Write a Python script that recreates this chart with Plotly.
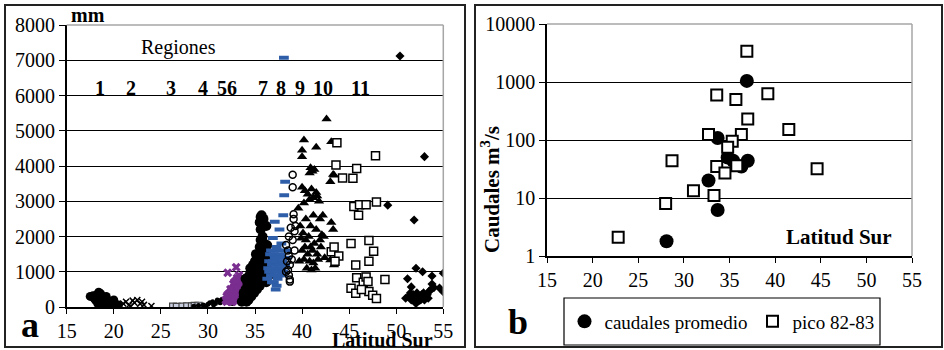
import plotly.graph_objects as go

# ---------------- Panel a: precipitation (mm) vs latitude, by region ----------------
r1_lat = [17.5, 17.8, 18.0, 18.2, 18.4, 18.5, 18.6, 18.8, 18.3, 18.5, 18.7, 19.0, 19.2, 19.5, 19.8, 20.0, 20.2, 20.4, 18.9, 19.6, 20.5, 18.1, 19.3, 17.9, 18.6, 19.1, 19.4, 19.9]
r1_mm = [300, 320, 280, 350, 420, 250, 300, 200, 100, 50, 150, 100, 300, 50, 100, 200, 80, 30, 20, 150, 60, 180, 200, 250, 380, 250, 120, 60]

r2_lat = [21.0, 21.3, 21.6, 22.0, 22.2, 22.5, 22.8, 23.0, 23.2, 24.0, 21.8]
r2_mm = [100, 150, 50, 180, 120, 200, 90, 150, 60, 30, 20]

r3_lat = [26.3, 26.7, 27.3, 27.8, 28.3, 28.6, 29.0]
r3_mm = [10, 5, 8, 15, 20, 30, 35]

r4_lat = [28.5, 29.0, 29.5, 30.0, 30.2, 30.5, 30.8, 31.0, 31.2, 31.5, 31.8, 30.6, 29.8, 31.3, 31.7, 32.0, 32.3, 32.6]
r4_mm = [20, 40, 60, 80, 120, 150, 100, 200, 180, 220, 250, 60, 30, 120, 160, 150, 120, 100]

r5_lat = [32.0, 32.2, 32.3, 32.5, 32.6, 32.8, 33.0, 33.1, 33.2, 33.3, 33.4, 33.5, 33.6, 33.7, 32.9, 32.4, 33.0, 33.3, 32.7, 33.5, 32.1, 33.0, 33.3, 32.6, 33.1, 32.8,
          32.2, 32.4, 32.6, 32.8, 33.0, 33.2, 33.4, 33.6, 33.7, 33.8, 32.9, 33.1, 33.3, 32.5, 32.3,
          31.9, 32.0, 32.1, 32.3, 32.5, 32.7, 32.9, 33.1, 33.3, 33.5, 33.6, 33.4, 33.2, 32.6, 32.8, 33.0, 33.5, 33.7, 32.4, 33.2]
r5_mm = [300, 250, 400, 350, 500, 450, 600, 400, 700, 550, 750, 650, 300, 500, 200, 200, 300, 250, 650, 450, 970, 1130, 900, 300, 820, 700,
         200, 300, 250, 350, 450, 350, 500, 600, 700, 400, 550, 650, 800, 150, 180,
         200, 150, 350, 300, 450, 400, 600, 550, 650, 700, 800, 350, 200, 150, 250, 750, 300, 600, 500, 500]

r6_lat = [33.8, 34.0, 34.2, 34.3, 34.5, 34.6, 34.8, 35.0, 35.0, 35.2, 35.3, 35.5, 35.4, 35.6, 35.7, 35.8, 35.9, 36.0, 35.6, 35.7, 35.6, 35.8, 35.7, 36.1, 36.3, 36.5, 34.4, 34.9, 35.1, 35.4, 35.8, 36.2, 34.7, 35.2, 35.5,
          34.1, 34.3, 34.6, 34.9, 35.1, 35.3, 35.0, 35.6, 35.9, 34.5, 34.8, 35.2, 35.5, 35.9, 35.6, 36.0, 36.4, 34.0, 34.4, 35.7,
          33.6, 33.8, 34.0, 34.2, 34.3, 34.5, 34.7, 34.8, 35.0, 35.2, 35.3, 35.4, 35.6, 35.8, 36.0, 36.2, 36.3, 36.1, 35.5, 35.9, 36.2, 34.6, 34.1, 35.1, 36.4]
r6_mm = [300, 500, 400, 700, 600, 900, 800, 1000, 600, 1100, 900, 1300, 1500, 1600, 1400, 1700, 1200, 1000, 2200, 2400, 2550, 2000, 2600, 1500, 1100, 900, 300, 400, 700, 1000, 900, 700, 1000, 1300, 1700,
         250, 450, 550, 850, 1200, 1400, 1300, 1100, 1500, 1100, 1200, 800, 600, 2300, 1900, 1800, 1300, 800, 900, 800,
         150, 400, 250, 650, 200, 800, 400, 650, 900, 500, 1100, 700, 1250, 1100, 1400, 1600, 1750, 1200, 2400, 2500, 2300, 300, 150, 1500, 1000]

r8_lat = [36.3, 36.5, 36.7, 36.8, 37.0, 37.1, 37.2, 37.3, 37.4, 37.5, 37.6, 37.7, 37.8, 37.9, 38.0, 37.0, 37.4, 36.9, 37.1, 37.6, 38.0, 38.1, 38.2, 37.2, 38.4, 36.6, 37.8, 38.07,
          36.5, 36.7, 36.8, 37.0, 37.1, 37.3, 37.5, 37.6, 37.9, 38.2, 36.4, 37.3, 38.3, 36.9]
r8_mm = [800, 1000, 900, 1200, 1100, 1400, 1000, 1300, 1600, 1200, 900, 1500, 1100, 1300, 1000, 700, 800, 1960, 2420, 2200, 2600, 3170, 3550, 500, 1400, 1500, 1800, 7070,
         1300, 1600, 700, 1500, 900, 1700, 1400, 1200, 900, 1200, 1100, 600, 1600, 1300]

r9_lat = [39.0, 39.0, 39.1, 39.1, 38.8, 39.2, 38.6, 38.3, 38.5, 38.6, 38.4, 38.7, 38.5, 38.3, 38.6, 38.7, 38.7, 39.2, 39.0, 38.9, 39.3]
r9_mm = [3750, 3400, 2630, 2500, 2250, 2150, 2000, 1760, 1600, 1450, 1300, 1200, 1050, 1000, 900, 780, 720, 1600, 1900, 1350, 2300]

r10_lat = [42.6, 40.2, 40.0, 40.0, 41.5, 43.1, 40.9, 41.1, 41.3, 40.8, 43.3, 43.0, 43.4, 40.0, 40.3, 40.6, 41.0, 41.2, 41.5, 41.8, 40.8, 41.6, 40.2, 41.9, 42.2, 43.1, 43.3, 42.1, 39.6, 39.8, 40.1, 40.4, 40.7, 40.9, 41.1, 41.3, 41.6, 41.9, 40.0, 40.2, 40.5, 40.8, 41.0, 41.2, 41.4, 41.7, 40.3, 40.6, 41.5, 42.0, 42.4, 43.0, 43.4, 39.7, 40.4, 40.9, 41.2, 39.9, 42.3]
r10_mm = [5330, 4740, 4450, 4260, 4530, 4690, 3950, 3850, 3900, 3800, 3760, 3550, 3740, 3400, 3300, 3200, 3350, 3100, 3250, 3000, 3050, 3150, 2950, 2500, 2600, 2400, 2200, 2050, 2800, 2300, 2100, 1900, 2000, 1700, 1600, 1800, 1500, 1900, 1600, 1350, 1100, 1300, 1050, 1250, 1100, 1350, 1700, 1500, 2200, 1700, 1400, 1330, 1190, 1300, 2500, 2300, 2600, 1950, 2000]

r11_lat = [43.7, 47.8, 43.6, 45.8, 44.3, 45.4, 45.5, 46.1, 46.8, 47.9, 46.0, 45.2, 47.1, 47.6, 47.1, 43.1, 43.4, 43.9, 43.5, 45.7, 48.8, 45.2, 45.7, 45.8, 46.5, 46.8, 47.0, 47.1, 47.5, 47.9, 46.3]
r11_mm = [4660, 4290, 4030, 3930, 3660, 3650, 2850, 2900, 2900, 2980, 2600, 1800, 1890, 1580, 1300, 1570, 1700, 1450, 1300, 1190, 780, 530, 390, 830, 700, 850, 720, 440, 330, 240, 500]

r12_lat = [50.4, 53.0, 49.1, 51.9, 52.1, 52.8, 51.2, 53.8, 55.0, 51.6, 54.6, 55.0, 51.0, 51.3, 51.6, 51.8, 52.0, 52.1, 52.3, 52.5, 52.7, 52.9, 53.1, 53.3, 53.5, 53.7, 53.4, 52.2, 51.9, 52.6, 53.0, 51.5, 53.8, 54.0, 52.4]
r12_mm = [7120, 4265, 2890, 2470, 1100, 1000, 800, 880, 960, 570, 540, 430, 250, 300, 200, 350, 150, 100, 250, 300, 350, 400, 300, 350, 450, 500, 250, 400, 300, 200, 200, 400, 650, 550, 180]

region_labels = ["1", "2", "3", "4", "56", "7", "8", "9", "10", "11"]
region_label_lat = [18.5, 21.8, 26.1, 29.5, 32.0, 35.8, 37.8, 39.8, 42.2, 46.2]

# ---------------- Panel b: discharge (m3/s) vs latitude ----------------
prom_lat = [36.9, 33.7, 34.8, 35.4, 36.3, 37.0, 32.7, 33.7, 28.1]
prom_q = [1045, 108, 50, 44, 35, 44, 20, 6.2, 1.8]

pico_lat = [36.9, 33.6, 35.7, 39.2, 37.0, 41.5, 32.7, 36.3, 35.3, 34.8, 28.7, 33.6, 35.8, 34.5, 44.6, 31.05, 33.3, 28.0, 22.8]
pico_q = [3400, 598, 498, 630, 230, 152, 124, 124, 95, 75, 44, 35, 36, 27, 32, 13.4, 11, 8.0, 2.1]

x_ticks = [15, 20, 25, 30, 35, 40, 45, 50, 55]
ya_ticks = [0, 1000, 2000, 3000, 4000, 5000, 6000, 7000, 8000]
yb_ticks = [1, 10, 100, 1000, 10000]

SERIF = "Liberation Serif, Times New Roman, serif"
W, H = 944, 350

fig = go.Figure()

def add_a(lat, mm, symbol, size, color, fill=None, lw=0):
    fig.add_trace(go.Scatter(
        x=lat, y=mm, mode="markers", xaxis="x", yaxis="y", showlegend=False,
        marker=dict(symbol=symbol, size=size, color=fill if fill else color,
                    line=dict(color=color, width=lw)),
        hoverinfo="skip"))

add_a(r1_lat, r1_mm, "circle", 9, "black")
add_a(r2_lat, r2_mm, "x-thin-open", 6, "black", lw=1.5)
add_a(r3_lat, r3_mm, "square", 7, "#444444", fill="#c8cde0", lw=1.2)
add_a(r4_lat, r4_mm, "circle", 5, "black")
add_a(r5_lat, r5_mm, "x", 8, "#7a2e8f", fill="#7a2e8f")
add_a(r6_lat, r6_mm, "circle", 10, "black")
add_a(r8_lat, r8_mm, "line-ew-open", 7, "#2f5ea8", lw=4)
add_a(r9_lat, r9_mm, "circle-open", 7, "black", lw=1.5)
add_a(r10_lat, r10_mm, "triangle-up", 9, "black")
add_a(r11_lat, r11_mm, "square", 8, "black", fill="white", lw=1.5)
add_a(r12_lat, r12_mm, "diamond", 7, "black")

fig.add_trace(go.Scatter(
    x=prom_lat, y=prom_q, mode="markers", xaxis="x2", yaxis="y2",
    name="caudales promedio",
    marker=dict(symbol="circle", size=14, color="black"), hoverinfo="skip"))
fig.add_trace(go.Scatter(
    x=pico_lat, y=pico_q, mode="markers", xaxis="x2", yaxis="y2",
    name="pico 82-83",
    marker=dict(symbol="square", size=11, color="white", line=dict(color="black", width=2)),
    hoverinfo="skip"))

tickfont = dict(family=SERIF, size=20, color="black")
common_x = dict(range=[15, 55], tickvals=x_ticks, ticks="outside", ticklen=5, tickcolor="black",
                showline=True, linecolor="black", linewidth=1.5, showgrid=False, zeroline=False,
                tickfont=tickfont)

fig.update_layout(
    width=W, height=H, margin=dict(l=0, r=0, t=0, b=0, autoexpand=False),
    paper_bgcolor="white", plot_bgcolor="white",
    font=dict(family=SERIF, size=20, color="black"),
    xaxis=dict(domain=[66.7 / W, 443.3 / W], anchor="y", **common_x),
    yaxis=dict(domain=[1 - 307 / H, 1 - 25 / H], anchor="x", range=[0, 8000], tickvals=ya_ticks,
               ticks="outside", ticklen=6, tickcolor="black", showline=True, linecolor="black",
               linewidth=1.5, showgrid=True, gridcolor="black", gridwidth=1.2, zeroline=False,
               tickfont=tickfont),
    xaxis2=dict(domain=[547 / W, 912 / W], anchor="y2", **common_x),
    yaxis2=dict(domain=[1 - 256 / H, 1 - 24 / H], anchor="x2", type="log", range=[0, 4],
                tickvals=yb_ticks, ticktext=[str(v) for v in yb_ticks],
                ticks="outside", ticklen=6, tickcolor="black", showline=True, linecolor="black",
                linewidth=1.5, showgrid=True, gridcolor="black", gridwidth=1.2, zeroline=False,
                tickfont=tickfont),
    legend=dict(orientation="h", x=722 / W, xanchor="center", y=1 - 321.5 / H, yanchor="middle",
                font=dict(family=SERIF, size=19, color="black"), bgcolor="rgba(0,0,0,0)",
                borderwidth=0, itemsizing="trace", traceorder="normal"),
)

shapes = []
# grey top/right borders of plot areas
for xd, yd in (("x domain", "y domain"), ("x2 domain", "y2 domain")):
    shapes.append(dict(type="line", xref=xd, yref=yd, x0=0, x1=1, y0=1, y1=1,
                       line=dict(color="#a6a6a6", width=1.5)))
    shapes.append(dict(type="line", xref=xd, yref=yd, x0=1, x1=1, y0=0, y1=1,
                       line=dict(color="#a6a6a6", width=1.5)))
# outer panel frames
shapes.append(dict(type="rect", xref="paper", yref="paper", x0=5 / W, x1=465 / W,
                   y0=1 - 347 / H, y1=1 - 5 / H, line=dict(color="#222222", width=2)))
shapes.append(dict(type="rect", xref="paper", yref="paper", x0=475 / W, x1=942 / W,
                   y0=1 - 347 / H, y1=1 - 5 / H, line=dict(color="#222222", width=2)))
# legend box
shapes.append(dict(type="rect", xref="paper", yref="paper", x0=564 / W, x1=880 / W,
                   y0=1 - 345 / H, y1=1 - 298 / H, line=dict(color="black", width=1.2)))
fig.update_layout(shapes=shapes)

ann = []
def txt(text, x, y, size=20, bold=False, xref="paper", yref="paper", angle=0):
    ann.append(dict(text=f"<b>{text}</b>" if bold else text, x=x, y=y, xref=xref, yref=yref,
                    showarrow=False, xanchor="center", yanchor="middle", textangle=angle,
                    font=dict(family=SERIF, size=size, color="black")))

txt("mm", 88 / W, 1 - 15.5 / H, 20, True)
txt("Regiones", 178 / W, 1 - 48 / H, 20)
for lab, lat in zip(region_labels, region_label_lat):
    txt(lab, lat, 6220, 20, True, xref="x", yref="y")
txt("a", 30 / W, 1 - 325 / H, 36, True)
txt("Latitud Sur", 382 / W, 1 - 340 / H, 20, True)
txt("Latitud Sur", 839 / W, 1 - 237 / H, 21, True)
txt("Caudales m<sup>3</sup>/s", 491 / W, 1 - 190 / H, 21, True, angle=-90)
txt("b", 518 / W, 1 - 322 / H, 36, True)
fig.update_layout(annotations=ann)

fig.write_html("out.html",
               post_script="document.body.style.margin='0';document.body.style.overflow='hidden';")
